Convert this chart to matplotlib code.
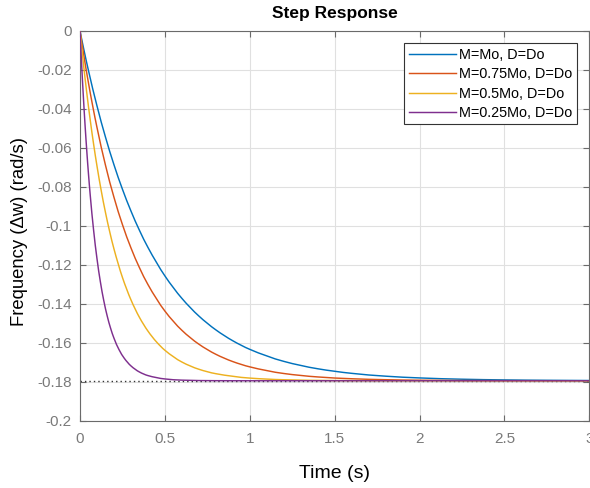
import matplotlib
matplotlib.use("Agg")
import matplotlib.pyplot as plt
import numpy as np
from matplotlib.path import Path
from matplotlib.patches import PathPatch

plt.rcParams['font.family'] = ['Liberation Sans', 'DejaVu Sans']

# ---- data ----
labels = ["M=Mo, D=Do", "M=0.75Mo, D=Do", "M=0.5Mo, D=Do", "M=0.25Mo, D=Do"]
colors = ["#0072BD", "#D95319", "#EDB120", "#7E2F8E"]

t_blue = [0, 0.025, 0.05, 0.1, 0.15, 0.2, 0.25, 0.3, 0.35, 0.4, 0.5, 0.6, 0.7, 0.8, 0.9,
          1.0, 1.2, 1.4, 1.6, 1.8, 2.0, 2.25, 2.5, 2.75, 3.0]
y_blue = [0, -0.01050, -0.02037, -0.03843, -0.05444, -0.06864, -0.08122, -0.09237, -0.10228,
          -0.11104, -0.12569, -0.13721, -0.14627, -0.15338, -0.15898, -0.16338, -0.16954,
          -0.17334, -0.17569, -0.17715, -0.17805, -0.17871, -0.17907, -0.17926, -0.17937]

t_red = [0, 0.025, 0.05, 0.075, 0.1, 0.15, 0.2, 0.25, 0.3, 0.35, 0.4, 0.5, 0.6, 0.7, 0.8,
         0.9, 1.0, 1.2, 1.4, 1.6, 1.8, 2.0, 2.5, 3.0]
y_red = [0, -0.01391, -0.02675, -0.03858, -0.04949, -0.06886, -0.08533, -0.09937, -0.11129,
         -0.12145, -0.13010, -0.14373, -0.15360, -0.16072, -0.16591, -0.16966, -0.17237,
         -0.17577, -0.17754, -0.17847, -0.17896, -0.17922, -0.17944, -0.17949]

t_yellow = [0, 0.02, 0.04, 0.06, 0.08, 0.1, 0.125, 0.15, 0.175, 0.2, 0.25, 0.3, 0.35, 0.4,
            0.45, 0.5, 0.6, 0.7, 0.8, 1.0, 1.2, 1.5, 2.0, 2.5, 3.0]
y_yellow = [0, -0.01668, -0.03181, -0.04556, -0.05800, -0.06929, -0.08194, -0.09314, -0.10305,
            -0.11183, -0.12648, -0.13795, -0.14696, -0.15399, -0.15952, -0.16385, -0.16988,
            -0.17359, -0.17587, -0.17813, -0.17898, -0.17938, -0.17949, -0.17950, -0.17950]

t_purple = [0, 0.01, 0.02, 0.03, 0.04, 0.05, 0.06, 0.08, 0.1, 0.12, 0.14, 0.16, 0.18, 0.2,
            0.23, 0.26, 0.3, 0.35, 0.4, 0.5, 0.6, 0.8, 1.0, 1.5, 2.0, 2.5, 3.0]
y_purple = [0, -0.01793, -0.03407, -0.04861, -0.06168, -0.07345, -0.08404, -0.10217, -0.11685,
            -0.12874, -0.13838, -0.14618, -0.15250, -0.15764, -0.16356, -0.16787, -0.17187,
            -0.17500, -0.17684, -0.17857, -0.17918, -0.17946, -0.17950, -0.17950, -0.17950,
            -0.17950, -0.17950]

steady_state = -0.1795
t_range = [0, 3]

x_ticks = [0, 0.5, 1, 1.5, 2, 2.5, 3]
x_ticklabels = ["0", "0.5", "1", "1.5", "2", "2.5", "3"]
y_ticks = [0, -0.02, -0.04, -0.06, -0.08, -0.1, -0.12, -0.14, -0.16, -0.18, -0.2]
y_ticklabels = ["0", "-0.02", "-0.04", "-0.06", "-0.08", "-0.1", "-0.12", "-0.14",
                "-0.16", "-0.18", "-0.2"]

series_t = [t_blue, t_red, t_yellow, t_purple]
series_y = [y_blue, y_red, y_yellow, y_purple]


def smooth_path(xs, ys):
    """Smooth (monotone cubic Bezier) path through the given data points."""
    x = np.asarray(xs, float)
    y = np.asarray(ys, float)
    h = np.diff(x)
    d = np.diff(y) / h
    m = np.zeros_like(x)
    m[0] = d[0]
    m[-1] = d[-1]
    for i in range(1, len(x) - 1):
        if d[i - 1] * d[i] <= 0:
            m[i] = 0.0
        else:
            w1 = 2 * h[i] + h[i - 1]
            w2 = h[i] + 2 * h[i - 1]
            m[i] = (w1 + w2) / (w1 / d[i - 1] + w2 / d[i])
    verts = [(x[0], y[0])]
    codes = [Path.MOVETO]
    for i in range(len(x) - 1):
        verts += [(x[i] + h[i] / 3, y[i] + m[i] * h[i] / 3),
                  (x[i + 1] - h[i] / 3, y[i + 1] - m[i + 1] * h[i] / 3),
                  (x[i + 1], y[i + 1])]
        codes += [Path.CURVE4] * 3
    return Path(verts, codes)


# ---- figure ----
fig = plt.figure(figsize=(5.9, 4.88), dpi=100)
ax = fig.add_axes([0.1356, 0.1379, 0.8633, 0.7986])

ax.plot(t_range, [steady_state, steady_state], linestyle=(0, (1, 2.2)), color="#333333",
        linewidth=1.0, zorder=2)
for tt, yy, c, lab in zip(series_t, series_y, colors, labels):
    patch = PathPatch(smooth_path(tt, yy), facecolor="none", edgecolor=c,
                      linewidth=1.05, transform=ax.transData, zorder=3,
                      capstyle="butt", joinstyle="round")
    ax.add_patch(patch)
    ax.plot([], [], color=c, linewidth=1.05, label=lab)

ax.set_xlim(0, 3)
ax.set_ylim(-0.2, 0)
ax.set_xticks(x_ticks)
ax.set_xticklabels(x_ticklabels)
ax.set_yticks(y_ticks)
ax.set_yticklabels(y_ticklabels)

ax.grid(True, color="#e0e0e0", linewidth=0.8, zorder=0)
ax.set_axisbelow(True)

spine_col = "#6a6a6a"
for s in ax.spines.values():
    s.set_color(spine_col)
    s.set_linewidth(0.8)
ax.tick_params(direction="in", length=4, width=0.8, color=spine_col,
               labelcolor="#7a7a7a", labelsize=11, top=True, right=True)
ax.tick_params(axis="x", pad=8)
ax.tick_params(axis="y", pad=6)

ax.set_title("Step Response", fontsize=12.5, fontweight="bold", pad=9)
ax.set_xlabel("Time (s)", fontsize=14, labelpad=14)
ax.set_ylabel("Frequency (Δw) (rad/s)", fontsize=13.3)
ax.yaxis.set_label_coords(-0.102, 0.485)

leg = ax.legend(loc="upper right", bbox_to_anchor=(0.9753, 0.9684), fontsize=10.4,
                fancybox=False, framealpha=1, edgecolor="#333333",
                handlelength=3.3, handletextpad=0.2, labelspacing=0.38,
                borderpad=0.3, borderaxespad=0)
leg.get_frame().set_linewidth(0.8)

fig.savefig("out.png", dpi=100)
